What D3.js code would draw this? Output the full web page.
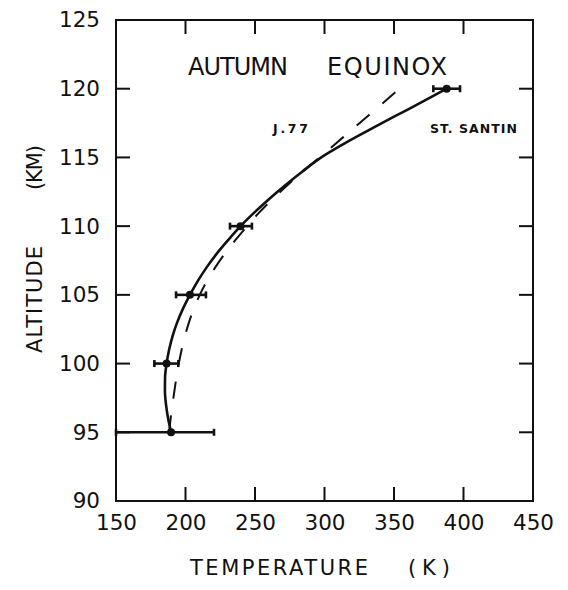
<!DOCTYPE html>
<html>
<head>
<meta charset="utf-8">
<script src="https://cdn.jsdelivr.net/npm/d3@7/dist/d3.min.js"></script>
<style>
  html, body { margin: 0; padding: 0; background: #fff; }
  svg { display: block; }
  text { font-family: "DejaVu Sans", sans-serif; fill: #111; }
</style>
</head>
<body>
<svg id="chart" width="568" height="590"></svg>
<script>
// Altitudes (km) of the measured temperatures, with their error bars (K)
const altitudes    = [95, 100, 105, 110, 120];
const tempMeasured = [189.6, 186.4, 203.2, 239.6, 387.9];
const tempLow      = [150.0, 177.6, 193.2, 232.0, 378.3];
const tempHigh     = [220.5, 194.8, 214.7, 247.8, 397.5];

// Smoothed St. Santin profile (solid)
const profileAlt  = [95, 96, 97, 98, 99, 100, 101, 102, 103, 104, 105, 106, 107, 108, 109, 110,
                     111, 112, 113, 114, 115, 116, 117, 118, 119, 120];
const santinTemp  = [189.6, 187.5, 186.0, 185.2, 185.3, 186.4, 188.2, 190.7, 194.0, 198.2, 203.2,
                     208.8, 215.2, 222.5, 230.8, 239.6, 249.6, 260.4, 272.0, 284.4, 297.7, 314.2,
                     332.2, 350.7, 369.6, 387.9];
// J.77 model profile (dashed)
const j77Temp     = [188.3, 189.3, 190.6, 192.0, 193.5, 195.2, 197.2, 199.6, 202.5, 206.0, 210.3,
                     215.4, 221.4, 228.3, 236.0, 244.3, 253.1, 262.9, 273.5, 284.7, 296.5, 308.0,
                     319.5, 331.0, 342.5, 354.0];

const xTicks = [150, 200, 250, 300, 350, 400, 450];
const yTicks = [90, 95, 100, 105, 110, 115, 120, 125];

const svg = d3.select("#chart");
const plotLeft = 116, plotRight = 533, plotTop = 20, plotBottom = 501;

const x = d3.scaleLinear().domain([150, 450]).range([plotLeft, plotRight]);
const y = d3.scaleLinear().domain([90, 125]).range([plotBottom, plotTop]);

const tickLen = 14;
const ink = "#111";

// Frame
svg.append("rect")
  .attr("x", x(150)).attr("y", y(125))
  .attr("width", x(450) - x(150)).attr("height", y(90) - y(125))
  .attr("fill", "none").attr("stroke", ink).attr("stroke-width", 2);

// Inward ticks on all four sides
const ticks = svg.append("g").attr("stroke", ink).attr("stroke-width", 2);
xTicks.slice(1, -1).forEach(t => {
  ticks.append("line").attr("x1", x(t)).attr("x2", x(t))
    .attr("y1", y(90)).attr("y2", y(90) - tickLen);
  ticks.append("line").attr("x1", x(t)).attr("x2", x(t))
    .attr("y1", y(125)).attr("y2", y(125) + tickLen);
});
yTicks.slice(1, -1).forEach(t => {
  ticks.append("line").attr("x1", x(150)).attr("x2", x(150) + tickLen)
    .attr("y1", y(t)).attr("y2", y(t));
  ticks.append("line").attr("x1", x(450)).attr("x2", x(450) - tickLen)
    .attr("y1", y(t)).attr("y2", y(t));
});

// Tick labels through D3 axes (domain and tick marks hidden)
function labelAxis(g) {
  g.select(".domain").remove();
  g.selectAll(".tick line").remove();
  g.selectAll(".tick text").attr("font-family", "DejaVu Sans, sans-serif")
    .attr("font-size", 21.5).attr("fill", ink);
}
svg.append("g").attr("transform", `translate(0,${plotBottom})`)
  .call(d3.axisBottom(x).tickValues(xTicks).tickFormat(d3.format("d"))
    .tickSize(0).tickPadding(14))
  .call(labelAxis);
svg.append("g").attr("transform", `translate(${plotLeft},0)`)
  .call(d3.axisLeft(y).tickValues(yTicks).tickFormat(d3.format("d"))
    .tickSize(0).tickPadding(16))
  .call(labelAxis);

// Profiles
const profile = (temps) => d3.line()
  .x((d, i) => x(temps[i]))
  .y(d => y(d))
  .curve(d3.curveMonotoneY)(profileAlt);

svg.append("path").attr("d", profile(j77Temp))
  .attr("fill", "none").attr("stroke", ink).attr("stroke-width", 2)
  .attr("stroke-dasharray", "17,17");

svg.append("path").attr("d", profile(santinTemp))
  .attr("fill", "none").attr("stroke", ink).attr("stroke-width", 2.6);

// Measurements with horizontal error bars
const pts = svg.append("g");
altitudes.forEach((a, i) => {
  const yy = y(a);
  pts.append("line").attr("x1", x(tempLow[i])).attr("x2", x(tempHigh[i]))
    .attr("y1", yy).attr("y2", yy).attr("stroke", ink).attr("stroke-width", 2.6);
  [tempLow[i], tempHigh[i]].forEach(t => {
    pts.append("line").attr("x1", x(t)).attr("x2", x(t))
      .attr("y1", yy - 3.5).attr("y2", yy + 3.5)
      .attr("stroke", ink).attr("stroke-width", 2.6);
  });
  pts.append("circle").attr("cx", x(tempMeasured[i])).attr("cy", yy).attr("r", 4)
    .attr("fill", ink);
});

// Title and curve labels
svg.append("text").attr("x", 188).attr("y", 75).attr("font-size", 24)
  .attr("textLength", 100).attr("lengthAdjust", "spacing").text("AUTUMN");
svg.append("text").attr("x", 327).attr("y", 75).attr("font-size", 24)
  .attr("textLength", 120).attr("lengthAdjust", "spacing").text("EQUINOX");

svg.append("text").attr("x", 273).attr("y", 133).attr("font-size", 12.5)
  .attr("font-weight", "bold").attr("textLength", 35).attr("lengthAdjust", "spacing")
  .text("J.77");
svg.append("text").attr("x", 430).attr("y", 133).attr("font-size", 12.5)
  .attr("font-weight", "bold").attr("textLength", 87).attr("lengthAdjust", "spacing")
  .text("ST. SANTIN");

// Axis titles
svg.append("text").attr("x", 190).attr("y", 575).attr("font-size", 21)
  .attr("textLength", 178).attr("lengthAdjust", "spacing").text("TEMPERATURE");
svg.append("text").attr("x", 408).attr("y", 575).attr("font-size", 21)
  .attr("textLength", 42).attr("lengthAdjust", "spacing").text("(K)");

svg.append("text").attr("transform", "translate(42,353) rotate(-90)").attr("font-size", 21)
  .attr("textLength", 107).attr("lengthAdjust", "spacing").text("ALTITUDE");
svg.append("text").attr("transform", "translate(42,190) rotate(-90)").attr("font-size", 21)
  .attr("textLength", 45).attr("lengthAdjust", "spacing").text("(KM)");
</script>
</body>
</html>
